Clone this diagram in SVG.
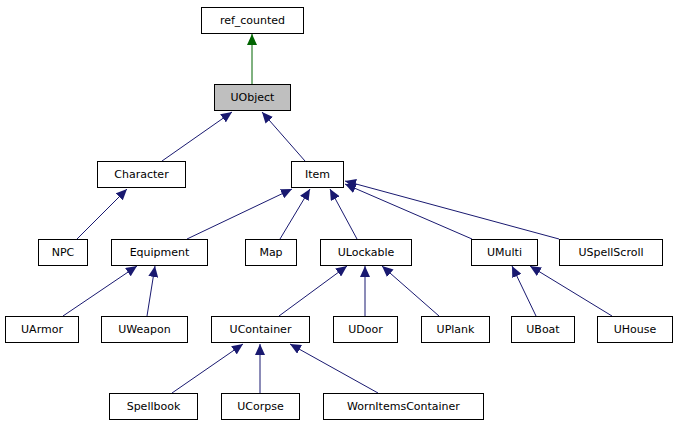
<svg xmlns="http://www.w3.org/2000/svg" width="677" height="427" viewBox="0 0 677 427">
<style>
.n rect{fill:#fff;stroke:#000;stroke-width:1}
.n text{font-family:"DejaVu Sans",sans-serif;font-size:11px;text-anchor:middle;fill:#000}
.e line{stroke:#191970;stroke-width:1}
</style>
<defs>
<marker id="a" markerUnits="userSpaceOnUse" markerWidth="12" markerHeight="10" refX="11" refY="5" orient="auto"><path d="M0,0L11,5L0,10z" fill="#191970"/></marker>
<marker id="g" markerUnits="userSpaceOnUse" markerWidth="12" markerHeight="10" refX="11" refY="5" orient="auto"><path d="M0,0L11,5L0,10z" fill="#006400"/></marker>
</defs>
<rect width="677" height="427" fill="#fff"/>
<g class="e">
<line x1="252" y1="84" x2="252" y2="34" style="stroke:#006400" marker-end="url(#g)"/>
<line x1="162" y1="161" x2="232" y2="112" marker-end="url(#a)"/>
<line x1="305" y1="161" x2="262" y2="112" marker-end="url(#a)"/>
<line x1="77" y1="239" x2="127" y2="189" marker-end="url(#a)"/>
<line x1="187" y1="239" x2="292" y2="189" marker-end="url(#a)"/>
<line x1="280" y1="239" x2="310" y2="189" marker-end="url(#a)"/>
<line x1="357" y1="239" x2="330" y2="189" marker-end="url(#a)"/>
<line x1="472" y1="239" x2="345" y2="184" marker-end="url(#a)"/>
<line x1="559" y1="239" x2="345" y2="181" marker-end="url(#a)"/>
<line x1="63" y1="316" x2="137" y2="266" marker-end="url(#a)"/>
<line x1="147" y1="316" x2="155" y2="266" marker-end="url(#a)"/>
<line x1="279" y1="316" x2="347" y2="266" marker-end="url(#a)"/>
<line x1="365" y1="316" x2="365" y2="266" marker-end="url(#a)"/>
<line x1="439" y1="316" x2="382" y2="266" marker-end="url(#a)"/>
<line x1="536" y1="316" x2="512" y2="266" marker-end="url(#a)"/>
<line x1="612" y1="316" x2="530" y2="266" marker-end="url(#a)"/>
<line x1="172" y1="393" x2="243" y2="344" marker-end="url(#a)"/>
<line x1="260" y1="393" x2="260" y2="344" marker-end="url(#a)"/>
<line x1="378" y1="393" x2="290" y2="344" marker-end="url(#a)"/>
</g>
<g id="ref_counted" class="n"><rect x="201.5" y="7.5" width="102" height="26"/><text x="252.5" y="24">ref_counted</text></g>
<g id="UObject" class="n"><rect x="214.5" y="84.5" width="76" height="26" style="fill:#bfbfbf"/><text x="252.5" y="101">UObject</text></g>
<g id="Character" class="n"><rect x="97.5" y="161.5" width="88" height="26"/><text x="141.5" y="178">Character</text></g>
<g id="Item" class="n"><rect x="291.5" y="161.5" width="52" height="26"/><text x="317.5" y="178">Item</text></g>
<g id="NPC" class="n"><rect x="38.5" y="239.5" width="49" height="26"/><text x="63" y="256">NPC</text></g>
<g id="Equipment" class="n"><rect x="111.5" y="239.5" width="96" height="26"/><text x="159.5" y="256">Equipment</text></g>
<g id="Map" class="n"><rect x="245.5" y="239.5" width="51" height="26"/><text x="271" y="256">Map</text></g>
<g id="ULockable" class="n"><rect x="320.5" y="239.5" width="91" height="26"/><text x="366" y="256">ULockable</text></g>
<g id="UMulti" class="n"><rect x="471.5" y="239.5" width="66" height="26"/><text x="504.5" y="256">UMulti</text></g>
<g id="USpellScroll" class="n"><rect x="559.5" y="239.5" width="103" height="26"/><text x="611" y="256">USpellScroll</text></g>
<g id="UArmor" class="n"><rect x="5.5" y="316.5" width="73" height="26"/><text x="42" y="333">UArmor</text></g>
<g id="UWeapon" class="n"><rect x="101.5" y="316.5" width="86" height="26"/><text x="144.5" y="333">UWeapon</text></g>
<g id="UContainer" class="n"><rect x="211.5" y="316.5" width="98" height="26"/><text x="260.5" y="333">UContainer</text></g>
<g id="UDoor" class="n"><rect x="333.5" y="316.5" width="64" height="26"/><text x="365.5" y="333">UDoor</text></g>
<g id="UPlank" class="n"><rect x="421.5" y="316.5" width="68" height="26"/><text x="455.5" y="333">UPlank</text></g>
<g id="UBoat" class="n"><rect x="511.5" y="316.5" width="63" height="26"/><text x="543" y="333">UBoat</text></g>
<g id="UHouse" class="n"><rect x="597.5" y="316.5" width="75" height="26"/><text x="635" y="333">UHouse</text></g>
<g id="Spellbook" class="n"><rect x="109.5" y="393.5" width="88" height="26"/><text x="153.5" y="410">Spellbook</text></g>
<g id="UCorpse" class="n"><rect x="221.5" y="393.5" width="78" height="26"/><text x="260.5" y="410">UCorpse</text></g>
<g id="WornItemsContainer" class="n"><rect x="323.5" y="393.5" width="160" height="26"/><text x="403.5" y="410">WornItemsContainer</text></g>
</svg>
